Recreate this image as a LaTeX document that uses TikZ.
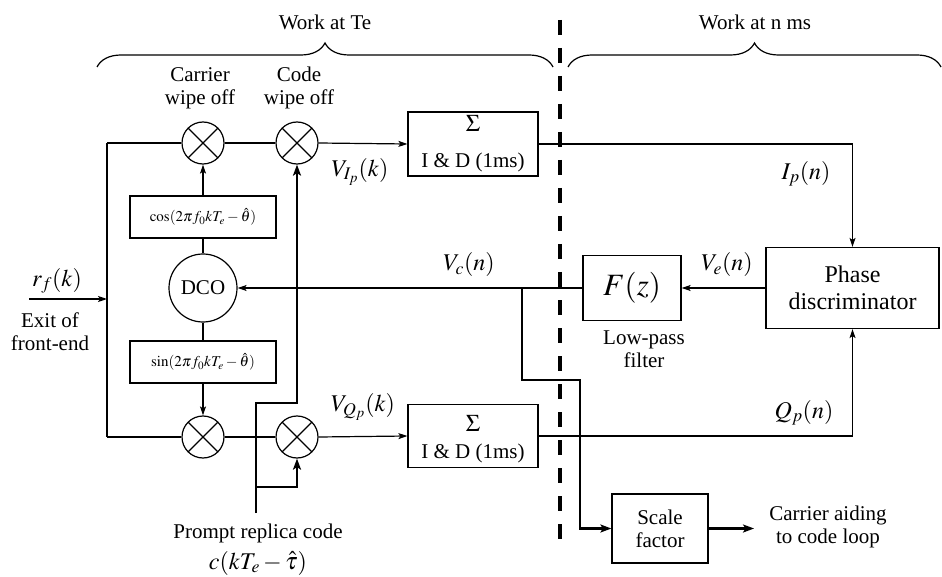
\documentclass[tikz,border=0pt]{standalone}
\usepackage{mathptmx}
\usepackage{fontspec}
\setmainfont{Liberation Serif}
\newfontfamily\tnr{Liberation Serif}
\usetikzlibrary{arrows.meta,decorations.pathreplacing}
\newcommand\myfs{\tnr\fontsize{21}{23}\selectfont}
\newcommand\myfsm{\tnr\fontsize{15}{17}\selectfont}
\newcommand\myfsl{\tnr\fontsize{24}{27}\selectfont}
\newcommand\myfsx{\tnr\fontsize{31}{33}\selectfont}
\begin{document}
\begin{tikzpicture}[x=1pt,y=-1pt,
  every node/.style={font=\myfs, inner sep=0pt},
  thin line/.style={line width=1.2pt},
  thick line/.style={line width=2.6pt},
  >={Stealth[length=9pt,width=6pt,inset=2pt]},
  mix/.style={draw, circle, thin line, minimum size=42pt, inner sep=0pt,
    path picture={\draw[thin line] (path picture bounding box.south west) -- (path picture bounding box.north east)
      (path picture bounding box.north west) -- (path picture bounding box.south east);}},
  blk/.style={draw, rectangle, thin line, align=center},
  lbl/.style={align=center},
  mlbl/.style={font=\myfsl},
  brc/.style={decorate, decoration={brace, amplitude=24pt}, line width=1.2pt}
]
\useasboundingbox (0,0) rectangle (942,577);
% braces and titles
\draw[brc] (97,67) -- (553,67);
\draw[brc] (568,67) -- (941,67);
\node (t1) at (325,22) {Work at Te};
\node (t2) at (755,22) {Work at n ms};
% dashed separator
\draw[line width=4pt, dash pattern=on 15pt off 13pt] (560,20) -- (560,542);
% mixers
\node[mix] (tc) at (203,143) {};
\node[mix] (tk) at (297,143) {};
\node[mix] (bc) at (203,437) {};
\node[mix] (bk) at (297,437) {};
\node[lbl] (lcw) at (200,88) {Carrier\\wipe off};
\node[lbl] (lkw) at (299,88) {Code\\wipe off};
% oscillator branch
\node[blk, minimum width=146pt, minimum height=42pt, font=\myfsm] (cosb) at (203,217) {$\cos(2\pi f_0kT_e-\hat\theta)$};
\node[draw, circle, thin line, minimum size=68pt] (dco) at (203,288) {DCO};
\node[blk, minimum width=146pt, minimum height=42pt, font=\myfsm] (sinb) at (203,362) {$\sin(2\pi f_0kT_e-\hat\theta)$};
% integrate and dump
\node[blk, minimum width=130pt, minimum height=64pt] (sigt) at (473,144) {};
\node[font=\myfsl] (sigtS) at (473,123) {$\Sigma$};
\node (sigtL) at (473,162) {I \& D (1ms)};
\node[blk, minimum width=130pt, minimum height=63pt] (sigb) at (473,436) {};
\node[font=\myfsl] (sigbS) at (473,423) {$\Sigma$};
\node (sigbL) at (473,453) {I \& D (1ms)};
% loop blocks
\node[blk, minimum width=98pt, minimum height=65pt, font=\myfsx] (fz) at (632,288) {$F(z)$};
\node[blk, minimum width=173pt, minimum height=81pt, font=\myfsl] (ph) at (852.5,288) {Phase\\discriminator};
\node[blk, minimum width=96pt, minimum height=69pt] (sc) at (660,528.5) {Scale\\factor};
% labels
\node[mlbl] (lvi) at (360,172) {$V_{I_p}(k)$};
\node[mlbl] (lvq) at (363,407) {$V_{Q_p}(k)$};
\node[mlbl] (lvc) at (469,265) {$V_c(n)$};
\node[mlbl] (lve) at (727,265) {$V_e(n)$};
\node[mlbl] (lip) at (806,174) {$I_p(n)$};
\node[mlbl] (lqp) at (804,413) {$Q_p(n)$};
\node[mlbl] (lrf) at (57,281) {$r_f(k)$};
\node[lbl] (lex) at (50,332) {Exit of\\front-end};
\node[lbl] (llp) at (644,349) {Low-pass\\filter};
\node[lbl] (lca) at (828,527) {Carrier aiding\\to code loop};
\node (lpr) at (258,533) {Prompt replica code};
\node[mlbl] (lpc) at (258,563) {$c(kT_e-\hat\tau)$};
% coordinates
\coordinate (in) at (29,299);
\coordinate (jn) at (107,299);
\coordinate (lt) at (107,143);
\coordinate (lb) at (107,437);
\coordinate (br) at (522,288);
\coordinate (b1) at (522,380);
\coordinate (b2) at (580,380);
\coordinate (out) at (754,528.5);
\coordinate (cb) at (256,513);
\coordinate (c1) at (256,403);
\coordinate (cj) at (256,487);
% thin connectors
\draw[thin line,->] (in) -- (jn);
\draw[thin line] (lt) -- (lb);
\draw[thin line] (lt) -- (tc.west);
\draw[thin line] (lb) -- (bc.west);
\draw[thin line] (tc.east) -- (tk.west);
\draw[thin line] (bc.east) -- (bk.west);
\draw[thin line,->] (tk.east) -- (sigt.west);
\draw[thin line,->] (bk.east) -- (sigb.west);
\draw[thin line,->] (cosb.north) -- (tc.south);
\draw[thin line] (cosb.south) -- (dco.north);
\draw[thin line] (dco.south) -- (sinb.north);
\draw[thin line,->] (sinb.south) -- (bc.north);
\draw[thin line,->] (sigt.east) -| (ph.north);
\draw[thin line,->] (sigb.east) -| (ph.south);
\draw[thin line,->] (ph.west) -- (fz.east);
\draw[thin line,->] (fz.west) -- (dco.east);
% thick connectors
\draw[thick line,->,>={Stealth[length=11pt,width=8pt,inset=2.5pt]}] (br) -- (b1) -- (b2) |- (sc.west);
\draw[thick line,->,>={Stealth[length=11pt,width=8pt,inset=2.5pt]}] (sc.east) -- (out);
\draw[thick line,->,>={Stealth[length=11pt,width=8pt,inset=2.5pt]}] (cb) -- (c1) -| (tk.south);
\draw[thick line,->,>={Stealth[length=11pt,width=8pt,inset=2.5pt]}] (cj) -| (bk.south);
\end{tikzpicture}
\end{document}
